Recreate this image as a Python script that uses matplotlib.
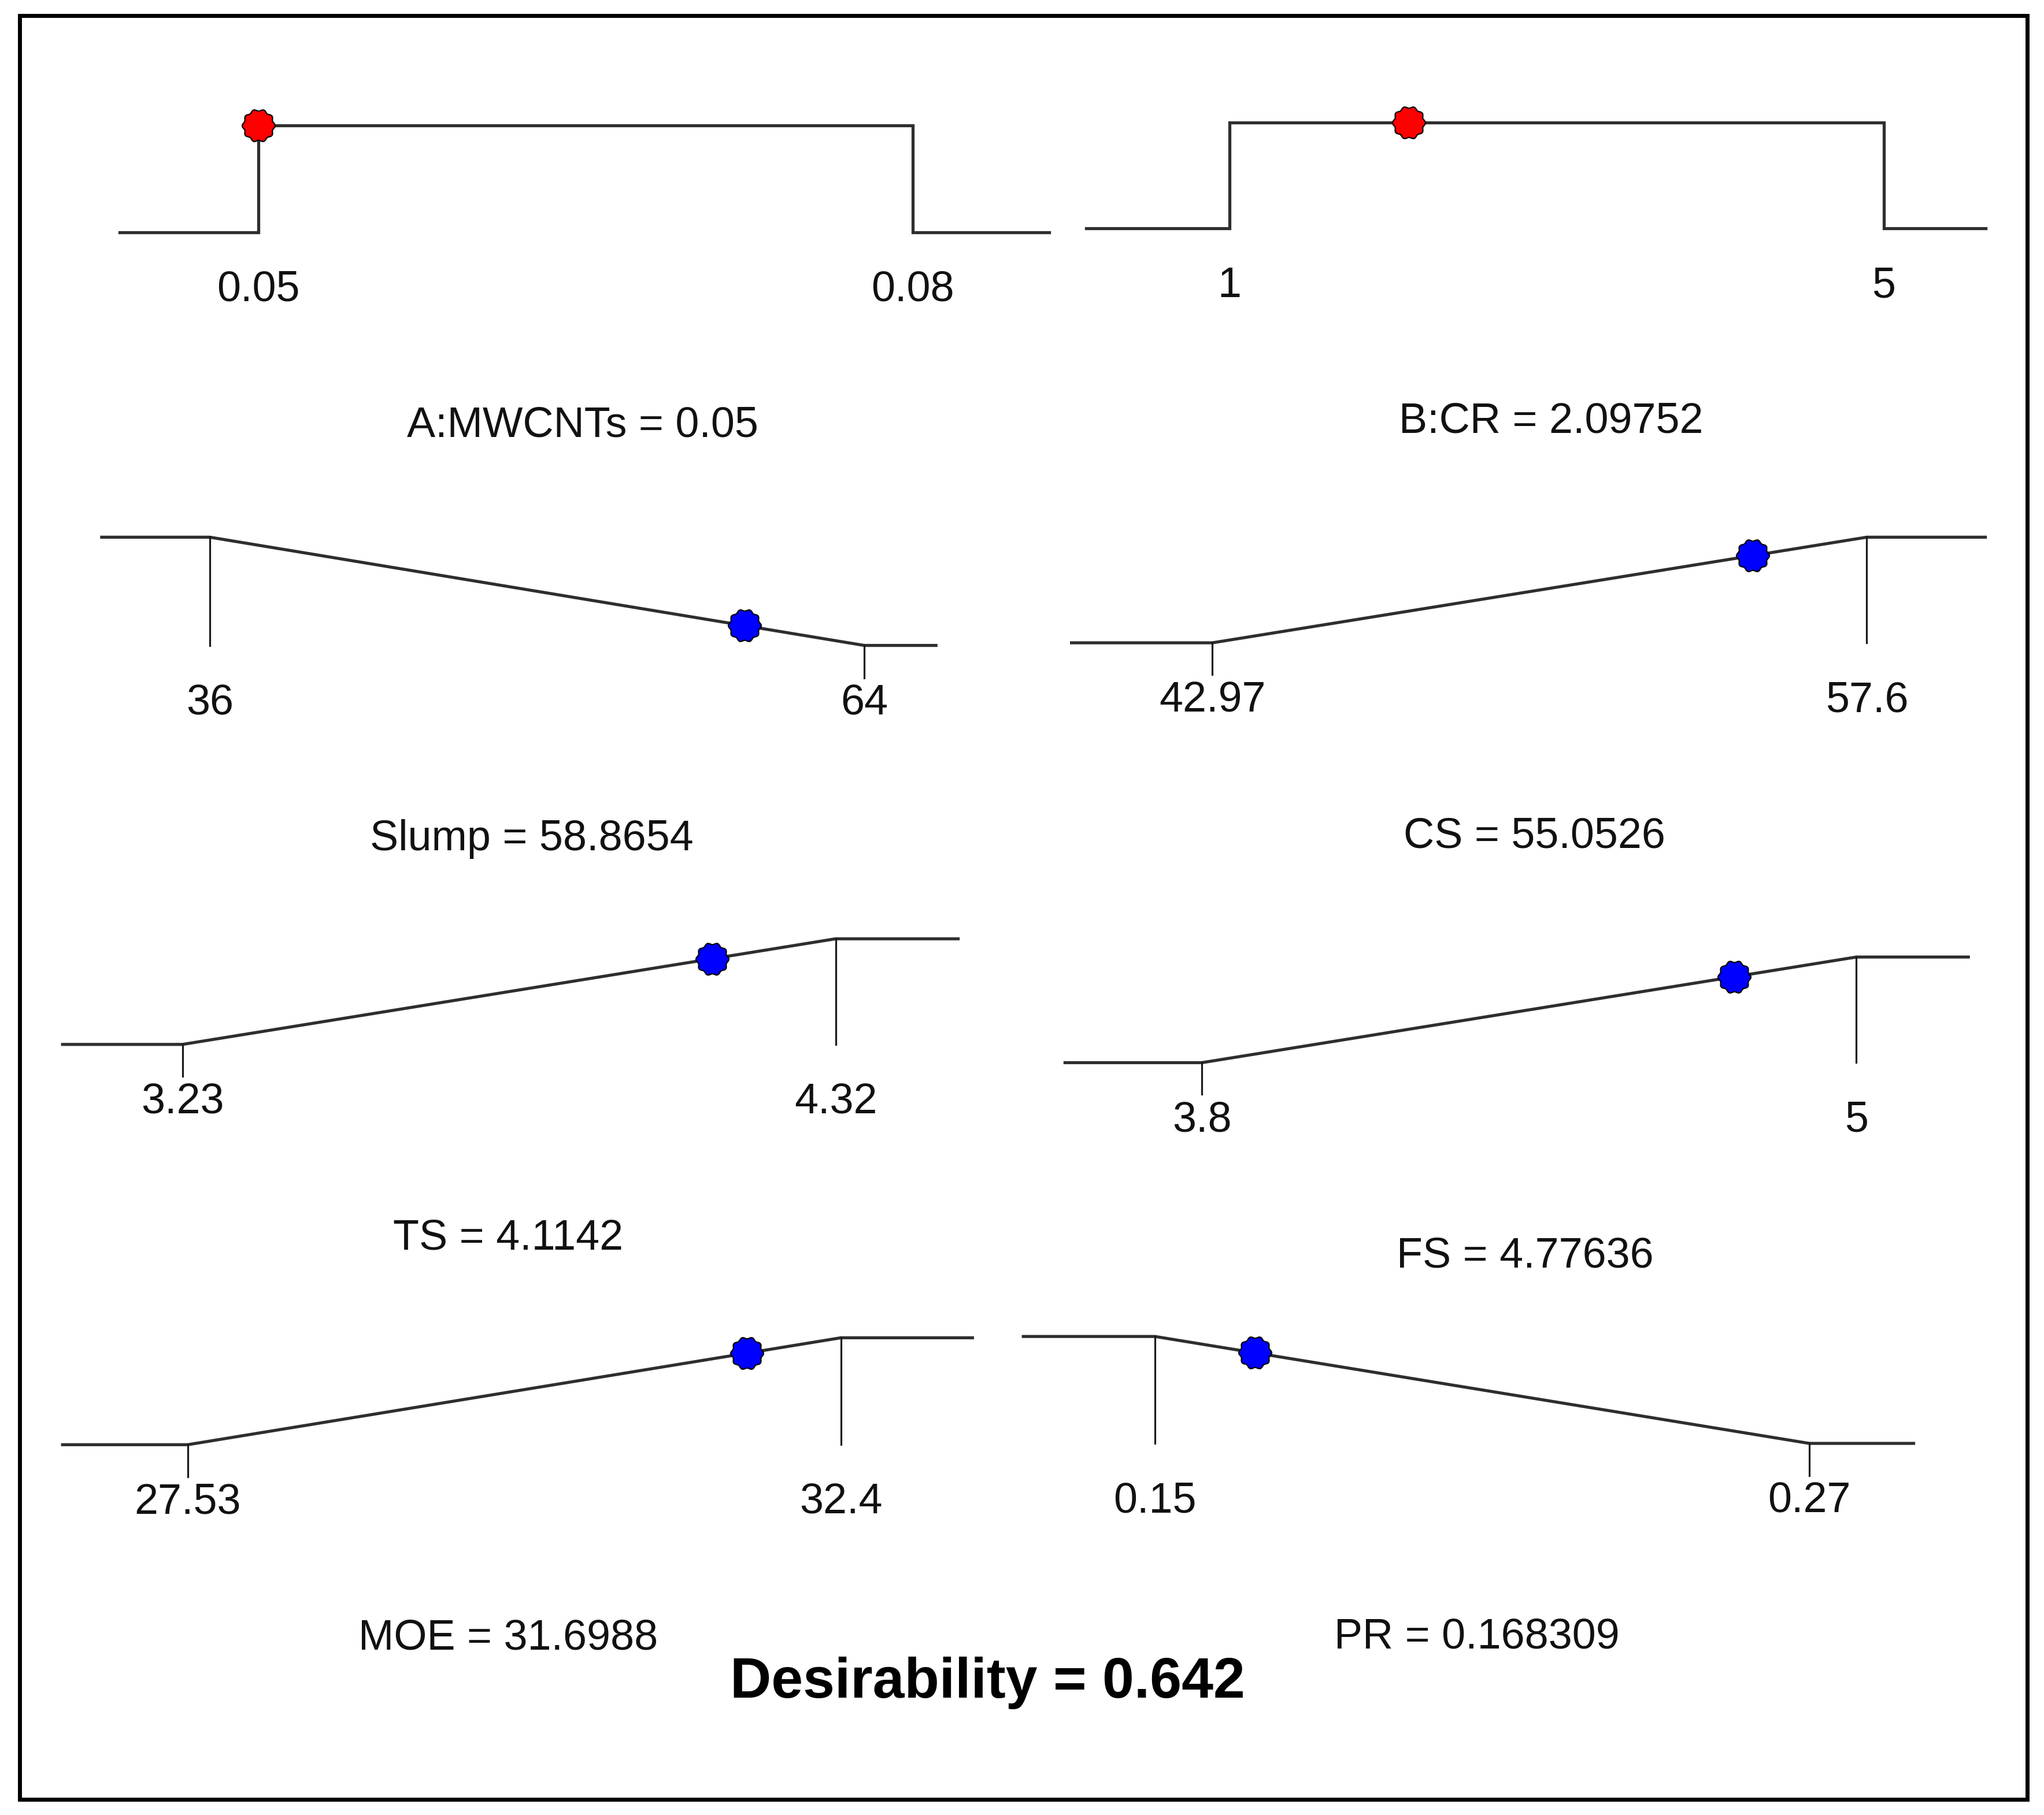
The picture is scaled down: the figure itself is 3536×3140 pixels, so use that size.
import numpy as np
import matplotlib.pyplot as plt
from matplotlib.path import Path
from matplotlib.patches import Rectangle

plt.rcParams['font.family'] = ['Liberation Sans', 'DejaVu Sans']

# ramp data (factors first, then responses)
names = ['A:MWCNTs', 'B:CR', 'Slump', 'CS', 'TS', 'FS', 'MOE', 'PR']
low = [0.05, 1, 36, 42.97, 3.23, 3.8, 27.53, 0.15]
high = [0.08, 5, 64, 57.6, 4.32, 5, 32.4, 0.27]
low_text = ['0.05', '1', '36', '42.97', '3.23', '3.8', '27.53', '0.15']
high_text = ['0.08', '5', '64', '57.6', '4.32', '5', '32.4', '0.27']
values = [0.05, 2.09752, 58.8654, 55.0526, 4.1142, 4.77636, 31.6988, 0.168309]
value_text = ['0.05', '2.09752', '58.8654', '55.0526', '4.1142', '4.77636', '31.6988', '0.168309']
goals = ['range', 'range', 'min', 'max', 'max', 'max', 'max', 'min']
desirability = 0.642

# layout on a 1568 x 1392 grid:
# left end, x of low, x of high, right end, y of d=0, y of d=1
W, H = 1568, 1392
layout = [
    (92, 198, 700, 805, 178, 96),
    (833, 943, 1445, 1523, 175, 94),
    (78, 161, 663, 718, 495, 412),
    (822, 930, 1432, 1523, 493, 412),
    (48, 140, 641, 735, 801, 720),
    (817, 922, 1424, 1510, 815, 734),
    (48, 144, 645, 746, 1108, 1026),
    (785, 886, 1388, 1468, 1107, 1025),
]
title_x = [447, 1190, 408, 1177, 390, 1170, 390, 1133]

# slightly scalloped dot like the Design-Expert marker
th = np.linspace(0, 2 * np.pi, 241)
rr = 1 + 0.06 * np.cos(10 * th)
dot = Path(np.column_stack([rr * np.cos(th), rr * np.sin(th)]))

fig = plt.figure(figsize=(35.36, 31.40), dpi=100)

line_kw = dict(color='#2e2e2e', lw=3.8, solid_joinstyle='miter', clip_on=False)
tick_kw = dict(color='#1a1a1a', lw=2.3, clip_on=False)
fs = 53

for i in range(len(names)):
    xl, xlo, xhi, xr, y0, y1 = layout[i]
    lo, hi, v = low[i], high[i], values[i]
    ax = fig.add_axes([xl / W, 1 - y0 / H, (xr - xl) / W, (y0 - y1) / H])
    k = (hi - lo) / (xhi - xlo)
    xmin = lo - (xlo - xl) * k
    xmax = hi + (xr - xhi) * k
    ax.set_xlim(xmin, xmax)
    ax.set_ylim(0, 1)
    ax.axis('off')

    if goals[i] == 'range':
        ax.plot([xmin, lo, lo, hi, hi, xmax], [0, 0, 1, 1, 0, 0], **line_kw)
        d = 1.0
        color = '#ff0000'
    elif goals[i] == 'max':
        ax.plot([xmin, lo, hi, xmax], [0, 0, 1, 1], **line_kw)
        ax.plot([hi, hi], [1, 0], **tick_kw)
        ax.plot([lo, lo], [0, -0.3], **tick_kw)
        d = (v - lo) / (hi - lo)
        color = '#0000ff'
    else:
        ax.plot([xmin, lo, hi, xmax], [1, 1, 0, 0], **line_kw)
        ax.plot([lo, lo], [1, 0], **tick_kw)
        ax.plot([hi, hi], [0, -0.3], **tick_kw)
        d = (hi - v) / (hi - lo)
        color = '#0000ff'

    ax.plot([v], [d], marker=dot, ms=41, mfc=color, mec='black', mew=1.6,
            ls='none', zorder=5, clip_on=False)

    for xv, txt in [(lo, low_text[i]), (hi, high_text[i])]:
        ax.annotate(txt, xy=(xv, 0), xytext=(0, -86), textcoords='offset points',
                    ha='center', va='baseline', fontsize=fs, color='#111111')
    tx = (title_x[i] - xl) / (xr - xl)
    ax.annotate(names[i] + ' = ' + value_text[i], xy=(tx, 0), xycoords='axes fraction',
                xytext=(0, -255), textcoords='offset points',
                ha='center', va='baseline', fontsize=fs, color='#111111')

fig.text(757.5 / W, 1 - 1302 / H, 'Desirability = %.3f' % desirability,
         ha='center', va='baseline', fontsize=71, fontweight='bold')

fig.patches.append(Rectangle((15 / W, 1 - 1380 / H), (1555 - 15) / W, (1380 - 12) / H,
                             transform=fig.transFigure, fill=False, lw=5, ec='black'))

fig.savefig('out.png', dpi=100)
